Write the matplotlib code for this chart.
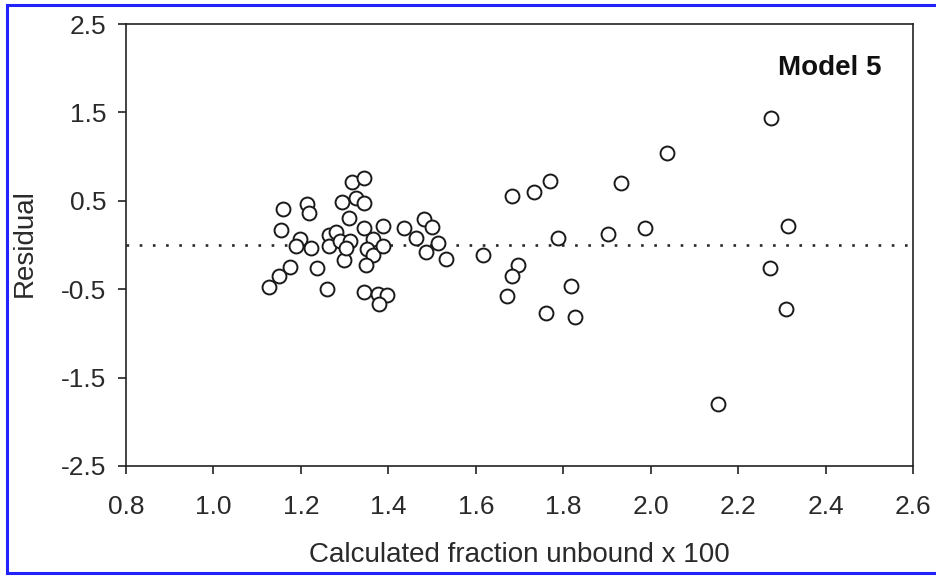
import numpy as np
import matplotlib.pyplot as plt
from matplotlib.lines import Line2D

# calculated fraction unbound (x100) and residuals
frac_unbound = [1.128, 1.149, 1.174, 1.154, 1.159, 1.199, 1.189, 1.224, 1.215, 1.219,
                1.238, 1.259, 1.264, 1.281, 1.264, 1.299, 1.294, 1.309, 1.318, 1.345,
                1.325, 1.345, 1.290, 1.313, 1.304, 1.344, 1.364, 1.351, 1.364, 1.349,
                1.388, 1.388, 1.344, 1.377, 1.396, 1.379, 1.437, 1.463, 1.481, 1.499,
                1.487, 1.514, 1.533, 1.617, 1.684, 1.733, 1.769, 1.787, 1.696, 1.683,
                1.672, 1.817, 1.761, 1.827, 1.903, 1.933, 1.988, 2.038, 2.153, 2.274,
                2.310, 2.314, 2.275]
residual = [-0.47, -0.35, -0.25, 0.17, 0.41, 0.07, -0.01, -0.03, 0.46, 0.36,
            -0.26, -0.50, 0.11, 0.15, -0.01, -0.17, 0.49, 0.31, 0.71, 0.76,
            0.53, 0.48, 0.05, 0.05, -0.03, 0.19, 0.07, -0.05, -0.11, -0.23,
            0.21, -0.01, -0.53, -0.55, -0.57, -0.67, 0.19, 0.08, 0.29, 0.20,
            -0.08, 0.02, -0.16, -0.11, 0.55, 0.60, 0.72, 0.08, -0.23, -0.35,
            -0.58, -0.46, -0.77, -0.82, 0.13, 0.70, 0.19, 1.04, -1.80, -0.26,
            -0.72, 0.21, 1.44]

x_ticks = [0.8, 1.0, 1.2, 1.4, 1.6, 1.8, 2.0, 2.2, 2.4, 2.6]
y_ticks = [-2.5, -1.5, -0.5, 0.5, 1.5, 2.5]

plt.rcParams['font.family'] = ['Liberation Sans', 'DejaVu Sans']

fig = plt.figure(figsize=(9.36, 5.76), dpi=100)
ax = fig.add_axes([0.1346, 0.191, 0.8408, 0.7673])

ax.axhline(0, color='#2a2a2a', lw=1.9, linestyle=(0, (1, 4.0)), zorder=1)
ax.plot(frac_unbound, residual, 'o', mfc='white', mec='#1a1a1a',
        ms=10, mew=1.4, zorder=2)

ax.set_xlim(0.8, 2.6)
ax.set_ylim(-2.5, 2.5)
ax.set_xticks(x_ticks)
ax.set_yticks(y_ticks)
ax.set_xticklabels(['%.1f' % v for v in x_ticks])
ax.set_yticklabels(['%.1f' % v for v in y_ticks])

for s in ax.spines.values():
    s.set_linewidth(1.2)
    s.set_color('#222222')
ax.tick_params(axis='both', direction='out', length=6, width=1.2,
               color='#222222', labelsize=19, labelcolor='#2a2a2a')
ax.tick_params(axis='x', pad=15)
ax.tick_params(axis='y', pad=8)

ax.set_xlabel('Calculated fraction unbound x 100', fontsize=20, color='#2a2a2a')
ax.set_ylabel('Residual', fontsize=20, color='#2a2a2a')
ax.xaxis.set_label_coords(0.5, -0.172)
ax.yaxis.set_label_coords(-0.112, 0.504)

ax.text(0.96, 0.90, 'Model 5', transform=ax.transAxes, ha='right', va='center',
        fontsize=20, fontweight='bold', color='#111111')

# blue frame on top, left and bottom edges of the picture
blue = '#2222ff'
fig.add_artist(Line2D([0.007, 1.0], [0.991, 0.991], color=blue, lw=2.2))
fig.add_artist(Line2D([0.007, 0.007], [0.005, 0.991], color=blue, lw=2.2))
fig.add_artist(Line2D([0.007, 1.0], [0.005, 0.005], color=blue, lw=2.2))

fig.savefig('out.png', dpi=100)
